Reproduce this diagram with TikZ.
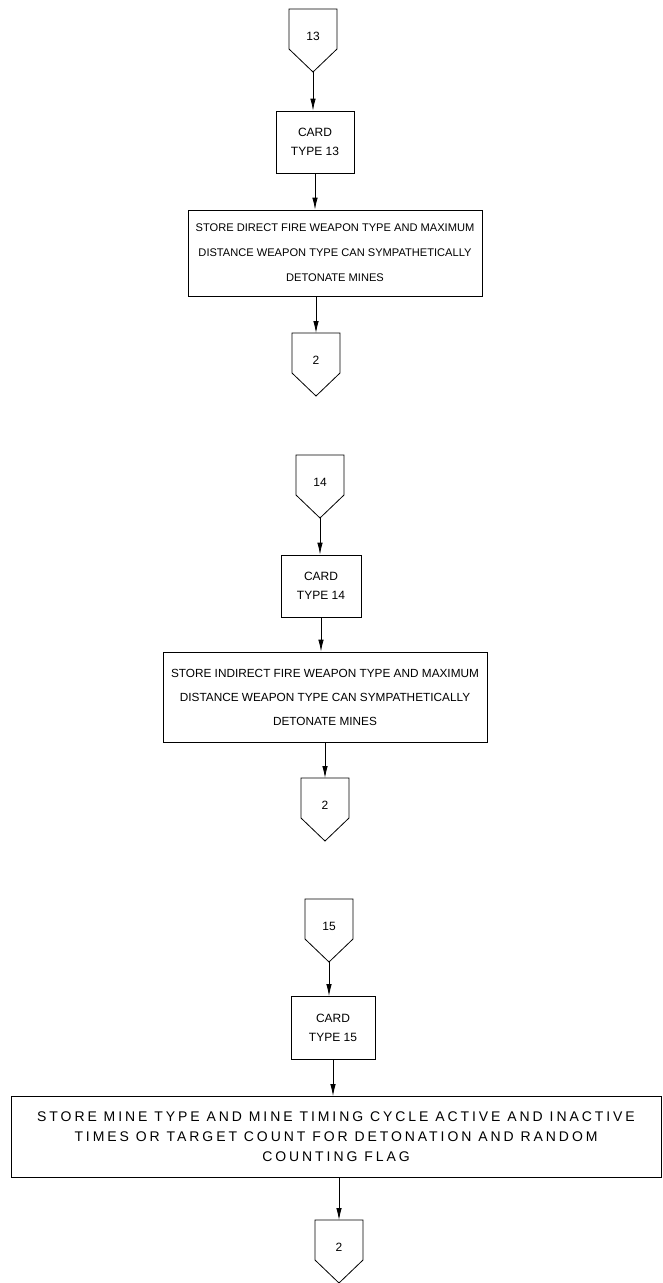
\documentclass[tikz,border=0pt]{standalone}
\usepackage{fontspec}
\setmainfont{Liberation Sans}
\newfontfamily\spacedfont[LetterSpace=21]{Liberation Sans}
\usetikzlibrary{arrows.meta}

\tikzset{
  outline/.style={line width=0.8pt},
  flow/.style={line width=0.8pt, -{Latex[length=12pt,width=5.5pt]}},
  card/.style={draw, line width=0.8pt, align=center, inner sep=0pt,
    font=\fontsize{12}{19}\selectfont},
  store/.style={draw, line width=0.8pt, align=center, inner sep=0pt},
  tag/.style={inner sep=0pt, font=\fontsize{12}{14}\selectfont},
}

% Off-page connector: name, centre x, top y, label
\newcommand\offpageconn[4]{%
  \draw[outline] (#2-24,#3) -- (#2+24,#3) -- (#2+24,#3+40) -- (#2,#3+63)
    -- (#2-24,#3+40) -- cycle;
  \node[tag] (#1) at (#2,#3+27) {#4};
  \coordinate (#1-in) at (#2,#3);
  \coordinate (#1-out) at (#2,#3+63);
}

\begin{document}
\begin{tikzpicture}[x=1pt,y=-1pt]
  \useasboundingbox[fill=white] (0,0) rectangle (662,1283);

  % ---- card type 13 ----
  \offpageconn{p13}{313}{9}{13}
  \node[card, minimum width=78pt, minimum height=62pt] (c13) at (315,142)
    {CARD\\TYPE 13};
  \node[store, minimum width=294pt, minimum height=86pt,
        font=\fontsize{11.1}{25}\selectfont] (b13) at (335,253)
    {STORE DIRECT FIRE WEAPON TYPE AND MAXIMUM\\
     DISTANCE WEAPON TYPE CAN SYMPATHETICALLY\\
     DETONATE MINES};
  \offpageconn{p2a}{316}{333}{2}
  \draw[flow] (p13-out) -- (p13-out |- c13.north);
  \draw[flow] (c13.south) -- (c13.south |- b13.north);
  \draw[flow] (p2a-in |- b13.south) -- (p2a-in);

  % ---- card type 14 ----
  \offpageconn{p14}{320}{455}{14}
  \node[card, minimum width=80pt, minimum height=62pt] (c14) at (321,586)
    {CARD\\TYPE 14};
  \node[store, minimum width=324pt, minimum height=90pt,
        font=\fontsize{11.8}{24}\selectfont] (b14) at (325,697)
    {STORE INDIRECT FIRE WEAPON TYPE AND MAXIMUM\\
     DISTANCE WEAPON TYPE CAN SYMPATHETICALLY\\
     DETONATE MINES};
  \offpageconn{p2b}{325}{778}{2}
  \draw[flow] (p14-out) -- (p14-out |- c14.north);
  \draw[flow] (c14.south) -- (c14.south |- b14.north);
  \draw[flow] (p2b-in |- b14.south) -- (p2b-in);

  % ---- card type 15 ----
  \offpageconn{p15}{329}{899}{15}
  \node[card, minimum width=84pt, minimum height=63pt] (c15) at (333,1028)
    {CARD\\TYPE 15};
  \node[store, minimum width=650pt, minimum height=81pt,
        font=\fontsize{14}{20}\spacedfont] (b15) at (336,1137)
    {STORE MINE TYPE AND MINE TIMING CYCLE ACTIVE AND INACTIVE\\
     TIMES OR TARGET COUNT FOR DETONATION AND RANDOM\\
     COUNTING FLAG};
  \offpageconn{p2c}{339}{1220}{2}
  \draw[flow] (p15-out) -- (p15-out |- c15.north);
  \draw[flow] (c15.south) -- (c15.south |- b15.north);
  \draw[flow] (p2c-in |- b15.south) -- (p2c-in);
\end{tikzpicture}
\end{document}
